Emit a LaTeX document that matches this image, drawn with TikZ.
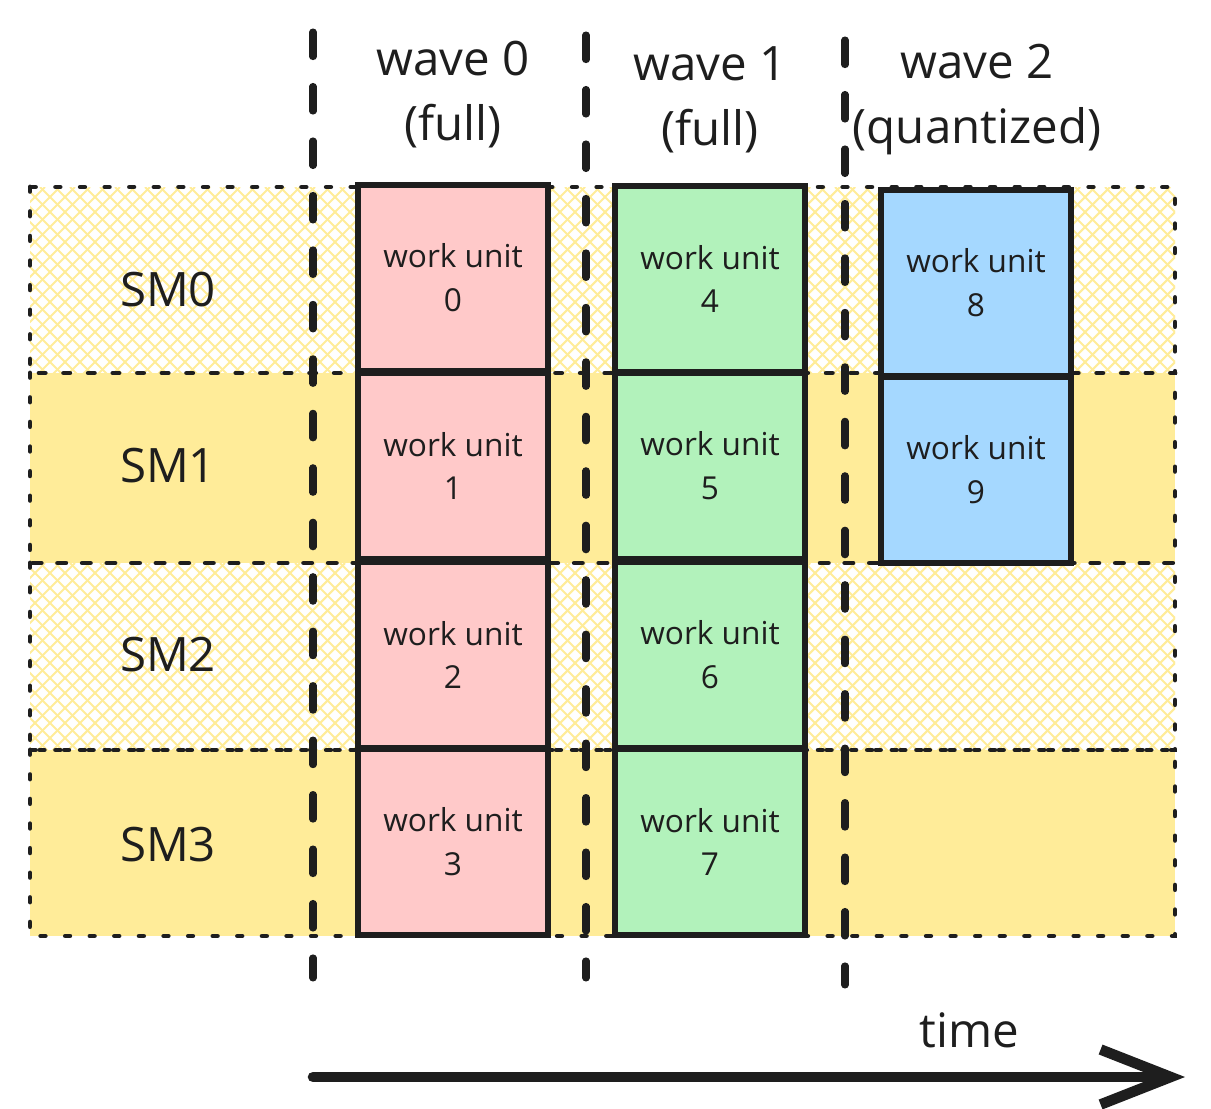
\documentclass[tikz,border=0pt]{standalone}
\usepackage{fontspec}
\setmainfont{Open Sans}
\usetikzlibrary{arrows.meta}
\definecolor{ink}{HTML}{1E1E1E}
\definecolor{band}{HTML}{FFEC99}
\definecolor{redunit}{HTML}{FFC9C9}
\definecolor{greenunit}{HTML}{B2F2BB}
\definecolor{blueunit}{HTML}{A5D8FF}
\tikzset{
  unitbox/.style={draw=ink,line width=3.6pt,minimum width=3.8cm,minimum height=3.72cm,
    align=center,text=ink,inner sep=0pt,font=\fontsize{18}{25}\selectfont},
  rowline/.style={ink,line width=2.8pt,line cap=round,dash pattern=on 2.5pt off 11.5pt},
  waveline/.style={ink,line width=4pt,line cap=round,dash pattern=on 14pt off 17pt},
  bigtext/.style={text=ink,align=center,font=\fontsize{27}{37}\selectfont},
  hatch/.style={band,line width=1.2pt}
}
\begin{document}
\begin{tikzpicture}[x=0.02cm,y=-0.02cm]
  \useasboundingbox (0,0) rectangle (1211,1109);

  % SM rows: solid bands
  \fill[band] (30,373) rectangle (1175,563);
  \fill[band] (30,750) rectangle (1175,936);
  % SM rows: cross-hatched bands
  \foreach \top/\bot in {187/373,563/750}{
    \begin{scope}
      \clip (30,\top) rectangle (1175,\bot);
      \foreach \i in {-200,-185,...,1200}{
        \draw[hatch] (\i,\top) -- ++(200,200);
        \draw[hatch] (\i+200,\top) -- ++(-200,200);
      }
    \end{scope}
  }
  \foreach \top/\bot in {187/373,373/563,563/750,750/936}
    \draw[rowline] (30,\top) rectangle (1175,\bot);

  \foreach \y [count=\k from 0] in {290,466,655,845}
    \node[bigtext] (sm\k) at (168,\y) {SM\k};

  % wave borders
  \draw[waveline] (313,32) -- (313,978);
  \draw[waveline] (586,35) -- (586,978);
  \draw[waveline] (845,40) -- (845,985);

  \node[bigtext] (wave0) at (453,95) {wave 0\\(full)};
  \node[bigtext] (wave1) at (710,100) {wave 1\\(full)};
  \node[bigtext] (wave2) at (977,100) {wave 2\\(quantized)};

  % work units
  \foreach \y [count=\k from 0] in {278,466,655,842}
    \node[unitbox,fill=redunit] (unit\k) at (453,\y) {work unit\\\k};
  \foreach \y [count=\k from 4] in {279,466,655,842}
    \node[unitbox,fill=greenunit] (unit\k) at (710,\y) {work unit\\\k};
  \foreach \y [count=\k from 8] in {283,470}
    \node[unitbox,fill=blueunit] (unit\k) at (976,\y) {work unit\\\k};

  % time axis
  \coordinate (tstart) at (313,1077);
  \coordinate (tend) at (1185,1077);
  \draw[ink,line width=6pt,line cap=round,-{Straight Barb[length=14mm,width=11mm]}] (tstart) -- (tend);
  \node[bigtext] (time) at (969,1030) {time};
\end{tikzpicture}
\end{document}
